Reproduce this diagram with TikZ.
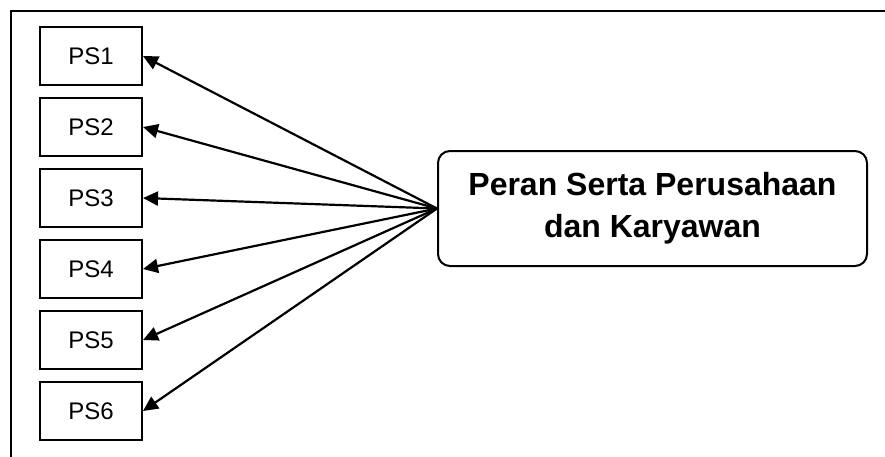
\documentclass[tikz,border=0pt]{standalone}
\usepackage{fontspec}
\setmainfont{Liberation Sans}
\usetikzlibrary{arrows.meta}
\tikzset{
  psbox/.style={draw,line width=1pt,minimum width=51pt,minimum height=29pt,inner sep=0pt,font=\fontsize{12pt}{14pt}\selectfont},
  mainbox/.style={draw,line width=1pt,rounded corners=6pt,minimum width=214.5pt,minimum height=57.5pt,align=center,font=\fontsize{16pt}{21pt}\selectfont\bfseries}
}
\begin{document}
\begin{tikzpicture}[>={Triangle[length=7.5pt,width=7pt]},x=0.5pt,y=-0.5pt]
		\useasboundingbox (0,0) rectangle (885,456);
		\draw[line width=1pt] (11,460)--(11,10.5)--(890,10.5);
		\foreach \i in {1,...,6}
		  \node[psbox] (ps\i) at (91,{56+71*(\i-1)}) {PS\i};
		\node[mainbox] (peran) at (652.5,208.5) {Peran Serta Perusahaan\\dan Karyawan};
		\foreach \i in {1,...,6}
		  \draw[->,line width=1.1pt] (peran.west)--(ps\i.east);
		\end{tikzpicture}
\end{document}
